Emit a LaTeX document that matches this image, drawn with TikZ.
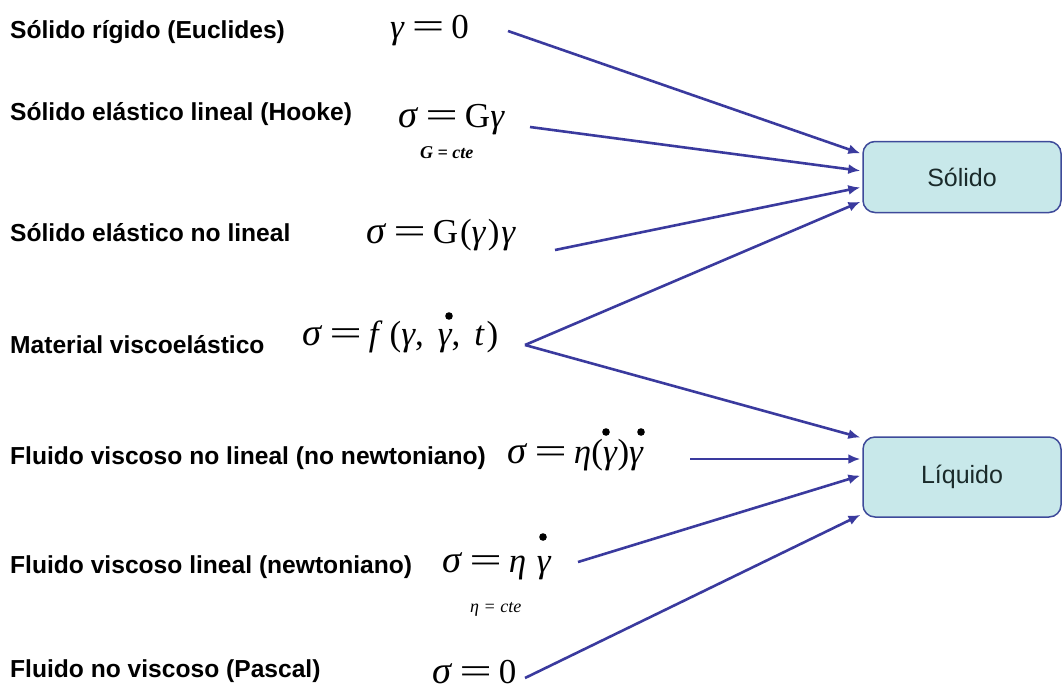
\documentclass[tikz,border=0pt]{standalone}
\usepackage{fontspec}
\usepackage{graphicx}
\setmainfont{Liberation Sans}
\newfontfamily\tms{Liberation Serif}
\usetikzlibrary{arrows.meta}
\definecolor{arrc}{HTML}{3A3A9E}
\definecolor{boxfill}{HTML}{C8E8EA}
\definecolor{boxdraw}{HTML}{3E4A9A}
\definecolor{boxtext}{HTML}{1A2A2A}
\newcommand{\fml}[1]{{\tms\fontsize{35}{35}\selectfont #1}}
\newcommand{\eqs}{\hspace{0.2em}\scalebox{1.65}[1.05]{=}\hspace{0.2em}}
\newcommand{\gs}{\scalebox{1.1}{\textit{σ}}}
\begin{document}
\begin{tikzpicture}[x=1pt,y=-1pt,
  lbl/.style={anchor=base west,inner sep=0pt,font=\bfseries\fontsize{24.6}{25}\selectfont},
  frm/.style={anchor=base west,inner sep=0pt},
  sub/.style={anchor=base west,inner sep=0pt,font=\tms\itshape\fontsize{18}{18}\selectfont},
  bx/.style={draw=boxdraw,fill=boxfill,line width=1.5pt,rounded corners=12pt,minimum width=198pt,minimum height=71pt,font=\fontsize{25}{25}\selectfont,text=boxtext},
  arr/.style={draw=arrc,line width=2.6pt,-{Latex[length=12pt,width=10pt]},shorten >=2pt},
  dotm/.style={fill=black}]
\useasboundingbox (0,0) rectangle (1062,691);
% boxes
\node[bx] (sol) at (962,177) {Sólido};
\node[bx,minimum height=80pt] (liq) at (962,477) {Líquido};
% labels
\node[lbl] (l1) at (10,38) {Sólido rígido (Euclides)};
\node[lbl] (l2) at (10,120) {Sólido elástico lineal (Hooke)};
\node[lbl] (l3) at (10,241) {Sólido elástico no lineal};
\node[lbl] (l4) at (10,353) {Material viscoelástico};
\node[lbl] (l5) at (10,464) {Fluido viscoso no lineal (no newtoniano)};
\node[lbl] (l6) at (10,573) {Fluido viscoso lineal (newtoniano)};
\node[lbl] (l7) at (10,677) {Fluido no viscoso (Pascal)};
% formulas
\node[frm] (f1) at (390,38) {\fml{\textit{γ}\eqs 0}};
\node[frm] (f2) at (398,127) {\fml{\gs\eqs G\textit{γ}}};
\node[sub,font=\tms\bfseries\itshape\fontsize{18}{18}\selectfont] (g2) at (420,158) {G = cte};
\node[frm] (f3) at (366,243) {\fml{\gs\eqs G\hspace{0.05em}(\textit{γ}\hspace{0.05em})\hspace{0.05em}\textit{γ}}};
\node[frm] (f4) at (302,345) {\fml{\gs\eqs \textit{f}\hspace{0.2em}(\textit{γ},\hspace{0.4em}\textit{γ},\hspace{0.4em}\textit{t}\hspace{0.05em})}};
\node[frm] (f5) at (507,463) {\fml{\gs\eqs \textit{η}(\textit{γ})\textit{γ}}};
\node[frm] (f6) at (442,572) {\fml{\gs\eqs \textit{η}\hspace{0.3em}\textit{γ}}};
\node[sub] (g6) at (470,612) {η = cte};
\node[frm] (f7) at (432,683) {\fml{\gs\eqs 0}};
% time-derivative dots
\fill[dotm] (449,316) circle[radius=3.8];
\fill[dotm] (606,432) circle[radius=3.8];
\fill[dotm] (641,432) circle[radius=3.8];
\fill[dotm] (543,537) circle[radius=3.8];
% free ends
\coordinate (s1) at (508,31);
\coordinate (s2) at (530,127);
\coordinate (s3) at (555,250);
\coordinate (s4) at (525,345);
\coordinate (s5) at (690,459);
\coordinate (s6) at (578,562);
\coordinate (s7) at (525,678);
% connectors
\draw[arr] (s1) -- (sol.west |- 0,154);
\draw[arr] (s2) -- (sol.west |- 0,171);
\draw[arr] (s3) -- (sol.west |- 0,187);
\draw[arr] (s4) -- (sol.west |- 0,201);
\draw[arr] (s4) -- (liq.west |- 0,438);
\draw[arr] (s5) -- (liq.west |- 0,459);
\draw[arr] (s6) -- (liq.west |- 0,475);
\draw[arr] (s7) -- (liq.west |- 0,514);
\end{tikzpicture}
\end{document}
